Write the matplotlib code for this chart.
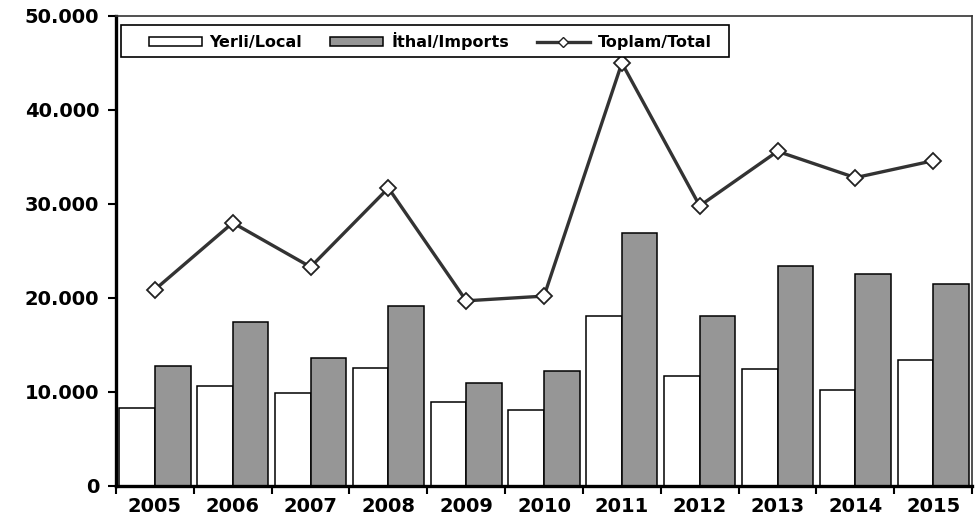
import matplotlib

matplotlib.use("Agg")
import matplotlib.pyplot as plt
import numpy as np
from matplotlib.lines import Line2D
from matplotlib.patches import Patch, Rectangle
from matplotlib.ticker import FuncFormatter

# values (thousand units)
years = ["2005", "2006", "2007", "2008", "2009", "2010", "2011", "2012", "2013", "2014", "2015"]
local = [8300, 10600, 9900, 12600, 8900, 8100, 18100, 11700, 12400, 10200, 13400]
imports = [12800, 17400, 13600, 19100, 11000, 12200, 26900, 18100, 23400, 22600, 21500]
total = [20900, 28000, 23300, 31700, 19700, 20200, 45000, 29800, 35600, 32800, 34600]

x = np.arange(len(years))
w = 0.457
W, H = 980, 529

fig = plt.figure(figsize=(W / 100, H / 100), dpi=100)
ax = fig.add_axes([0.1184, 0.0813, 0.8735, 0.8885])

ax.bar(x - w / 2, local, w, color="white", edgecolor="black", linewidth=1.1, zorder=2)
ax.bar(x + w / 2, imports, w, color="#969696", edgecolor="black", linewidth=1.1, zorder=2)
ax.plot(x, total, color="#333333", lw=2.4, marker="D", ms=8, mfc="white",
        mec="#222222", mew=1.3, zorder=3, clip_on=False)

ax.set_xlim(-0.5, len(years) - 0.5)
ax.set_ylim(0, 50000)
ax.set_yticks(np.arange(0, 50001, 10000))
ax.yaxis.set_major_formatter(FuncFormatter(lambda v, p: "0" if v == 0 else f"{int(v):,}".replace(",", ".")))

# boundary ticks below, labels centred under each group
ax.set_xticks(np.arange(-0.5, len(years)), labels=[])
ax.set_xticks(x, labels=years, minor=True)
ax.tick_params(axis="x", which="minor", length=0, pad=8)
ax.tick_params(axis="x", which="major", length=6, width=1.5, direction="out")
ax.tick_params(axis="y", length=6, width=1.5, direction="out", pad=6)
for lab in ax.get_xticklabels(minor=True) + ax.get_yticklabels():
    lab.set_fontsize(14)
    lab.set_fontweight("bold")

for side in ("left", "bottom"):
    ax.spines[side].set_linewidth(2.4)
    ax.spines[side].set_color("black")
for side in ("top", "right"):
    ax.spines[side].set_linewidth(1.2)
    ax.spines[side].set_color("#333333")

# legend box drawn by hand (Excel-style uneven padding)
box = Rectangle((121 / W, 1 - 57 / H), 608 / W, 32 / H, transform=fig.transFigure,
                facecolor="white", edgecolor="black", linewidth=1.2, zorder=4, clip_on=False)
ax.add_patch(box)

handles = [
    Patch(facecolor="white", edgecolor="black", linewidth=1.1, label="Yerli/Local"),
    Patch(facecolor="#969696", edgecolor="black", linewidth=1.1, label="İthal/Imports"),
    Line2D([0], [0], color="#333333", lw=2.4, marker="D", ms=5, mfc="white",
           mec="#222222", mew=1.0, label="Toplam/Total"),
]
leg = ax.legend(handles=handles, ncol=3, loc="center left",
                bbox_to_anchor=(149 / W, 1 - 41 / H), bbox_transform=fig.transFigure,
                frameon=False, prop={"weight": "bold", "size": 11.5},
                handlelength=3.3, handleheight=0.5, columnspacing=1.75,
                borderpad=0, borderaxespad=0, handletextpad=0.5)
leg.set_zorder(5)

fig.savefig("out.png", dpi=100)
